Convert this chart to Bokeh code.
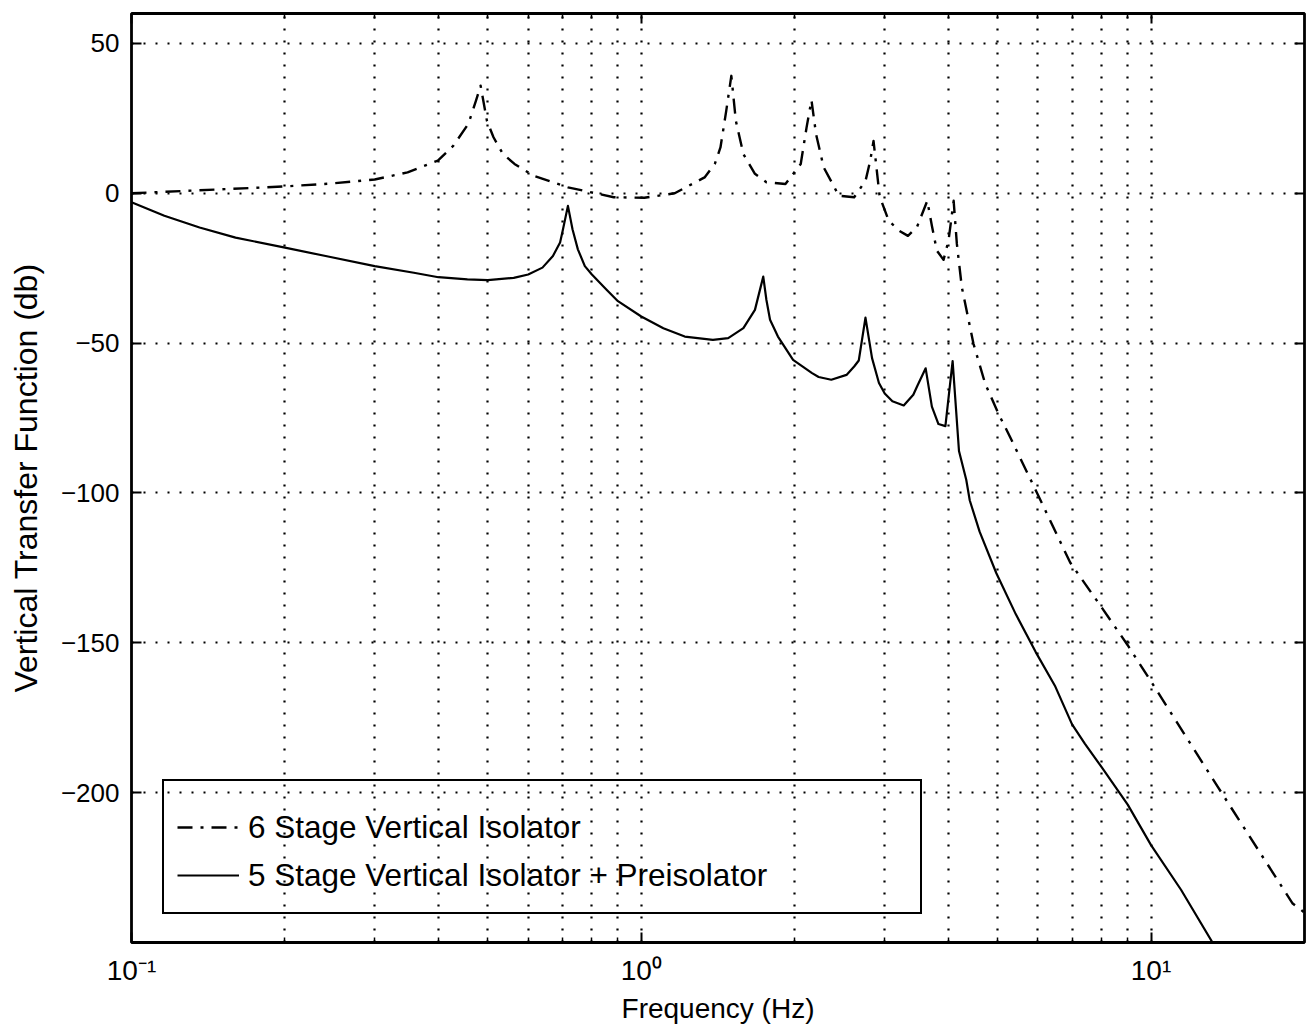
from bokeh.plotting import figure
from bokeh.models import FixedTicker, LogAxis, LinearAxis, Legend, LegendItem, Range1d
from bokeh.embed import file_html
from bokeh.resources import INLINE

# ---- data ----
freq_6stage = [0.1, 0.136, 0.2, 0.248, 0.3, 0.348, 0.399, 0.428, 0.458, 0.474, 0.484,
               0.498, 0.513, 0.535, 0.564, 0.614, 0.718, 0.883, 1.014, 1.163, 1.331,
               1.394, 1.43, 1.468, 1.502, 1.533, 1.586, 1.671, 1.76, 1.918, 2.055,
               2.11, 2.157, 2.202, 2.279, 2.441, 2.616, 2.754, 2.813, 2.855, 2.935,
               3.057, 3.2, 3.335, 3.473, 3.64, 3.716, 3.8, 3.917, 4.006, 4.1, 4.16,
               4.254, 4.484, 4.727, 5.018, 5.29, 5.94, 6.94, 8.0, 9.0, 10.0, 13.5,
               18.96, 20.0]
db_6stage = [0.0, 1.0, 2.3, 3.3, 4.6, 7.0, 10.9, 15.9, 23.2, 30.9, 35.9,
             24.2, 18.7, 13.2, 9.8, 5.9, 2.0, -1.3, -1.5, 0.0, 5.3,
             9.8, 15.3, 27.6, 39.2, 24.2, 13.1, 6.5, 3.7, 3.1, 9.8,
             22.0, 31.1, 19.8, 8.7, -0.8, -1.3, 4.2, 10.9, 17.5, -1.0,
             -9.1, -12.4, -14.2, -11.3, -2.5, -10.8, -19.1, -22.2, -15.8, -2.5, -16.9,
             -31.3, -50.2, -63.5, -73.5, -81.3, -99.1, -123.2, -138.2, -150.8, -162.9, -197.9,
             -237.0, -240.0]

freq_5stage = [0.1, 0.116, 0.136, 0.16, 0.2, 0.243, 0.3, 0.358, 0.4, 0.456, 0.5,
               0.562, 0.6, 0.64, 0.671, 0.693, 0.7, 0.718, 0.733, 0.751, 0.775,
               0.8, 0.854, 0.9, 1.0, 1.105, 1.217, 1.382, 1.481, 1.586, 1.671,
               1.735, 1.76, 1.789, 1.854, 1.985, 2.163, 2.228, 2.359, 2.527, 2.616,
               2.671, 2.753, 2.836, 2.926, 3.003, 3.109, 3.272, 3.417, 3.477, 3.613,
               3.716, 3.828, 3.95, 4.081, 4.2, 4.34, 4.41, 4.61, 4.97, 5.43, 5.94,
               6.49, 7.0, 7.42, 8.0, 9.0, 10.0, 11.45, 13.2]
db_5stage = [-3.0, -7.5, -11.4, -14.8, -18.1, -21.1, -24.3, -26.5, -28.0, -28.7, -29.0,
             -28.2, -27.1, -24.8, -20.9, -16.4, -13.1, -4.2, -12.0, -18.7, -24.3,
             -27.1, -32.1, -36.0, -41.1, -45.0, -47.8, -48.9, -48.3, -45.0, -38.9,
             -27.8, -35.6, -42.2, -47.8, -55.6, -60.0, -61.3, -62.2, -60.6, -57.8,
             -55.8, -41.5, -55.0, -63.3, -66.8, -69.4, -70.8, -67.2, -64.4, -58.4,
             -71.2, -77.0, -77.7, -56.0, -86.0, -95.6, -102.5, -112.9, -126.7, -140.5, -153.1,
             -164.6, -177.2, -183.7, -191.5, -204.0, -217.5, -232.4, -250.0]

x_major = [0.1, 1.0, 10.0]
x_minor = [0.2, 0.3, 0.4, 0.5, 0.6, 0.7, 0.8, 0.9, 2.0, 3.0, 4.0, 5.0, 6.0, 7.0, 8.0, 9.0]
x_tick_labels = ["10\u207b\u00b9", "10\u2070", "10\u00b9"]
y_ticks = [-200, -150, -100, -50, 0, 50]
y_tick_labels = ["\u2212200", "\u2212150", "\u2212100", "\u221250", "0", "50"]

series_labels = ["6 Stage Vertical Isolator", "5 Stage Vertical Isolator + Preisolator"]

FONT = "Liberation Sans"

p = figure(x_axis_type="log", x_range=Range1d(0.1, 20), y_range=Range1d(-250, 60),
           frame_width=1173, frame_height=929,
           min_border_left=131, min_border_right=4, min_border_top=13, min_border_bottom=88,
           output_backend="svg", toolbar_location=None)

p.outline_line_color = "black"
p.outline_line_width = 2.8
p.outline_line_alpha = 1.0
p.background_fill_color = "white"

# grid
p.xgrid.ticker = FixedTicker(ticks=x_major + x_minor)
p.ygrid.ticker = FixedTicker(ticks=y_ticks)
for g in (p.xgrid[0], p.ygrid[0]):
    g.grid_line_color = "black"
    g.grid_line_width = 2.2
    g.grid_line_dash = "2 10"
    g.grid_line_alpha = 1.0

def style_axis(ax):
    ax.axis_line_color = None
    ax.major_tick_in = 10
    ax.major_tick_out = 0
    ax.major_tick_line_width = 2
    ax.major_tick_line_color = "black"
    ax.minor_tick_in = 5
    ax.minor_tick_out = 0
    ax.minor_tick_line_width = 1.5
    ax.minor_tick_line_color = "black"
    ax.major_label_text_font = FONT
    ax.major_label_text_color = "black"

xa = p.xaxis[0]
xa.ticker = FixedTicker(ticks=x_major, minor_ticks=x_minor)
xa.major_label_overrides = dict(zip(x_major, x_tick_labels))
style_axis(xa)
xa.major_label_text_font_size = "28px"
xa.major_label_standoff = 12
xa.axis_label = "Frequency (Hz)"
xa.axis_label_text_font = FONT
xa.axis_label_text_font_size = "28px"
xa.axis_label_text_font_style = "normal"
xa.axis_label_text_color = "black"
xa.axis_label_standoff = 4

ya = p.yaxis[0]
ya.ticker = FixedTicker(ticks=y_ticks)
ya.major_label_overrides = dict(zip(y_ticks, y_tick_labels))
style_axis(ya)
ya.minor_tick_line_color = None
ya.major_label_text_font_size = "26px"
ya.major_label_standoff = 12
ya.axis_label = "Vertical Transfer Function (db)"
ya.axis_label_text_font = FONT
ya.axis_label_text_font_size = "32px"
ya.axis_label_text_font_style = "normal"
ya.axis_label_text_color = "black"
ya.axis_label_standoff = 14

ra = LinearAxis(ticker=FixedTicker(ticks=y_ticks))
style_axis(ra)
ra.minor_tick_line_color = None
ra.major_label_text_color = None
ra.major_label_text_font_size = "2px"
ra.major_label_standoff = 0
p.add_layout(ra, "right")

ta = LogAxis(ticker=FixedTicker(ticks=x_major, minor_ticks=x_minor))
style_axis(ta)
ta.major_label_text_color = None
ta.major_label_text_font_size = "2px"
ta.major_label_standoff = 0
p.add_layout(ta, "above")

r1 = p.line(freq_6stage, db_6stage, line_color="black", line_width=2.4,
            line_dash="15 8 3 8", line_join="round")
r2 = p.line(freq_5stage, db_5stage, line_color="black", line_width=2.2, line_join="round")

legend = Legend(items=[LegendItem(label=series_labels[0], renderers=[r1]),
                       LegendItem(label=series_labels[1], renderers=[r2])],
                location=(31, 28))
legend.border_line_color = "black"
legend.border_line_width = 2.5
legend.border_line_alpha = 1.0
legend.background_fill_alpha = 0.0
legend.padding = 13
legend.spacing = 0
legend.margin = 0
legend.label_standoff = 9
legend.glyph_width = 62
legend.glyph_height = 48
legend.label_height = 48
legend.label_width = 659
legend.label_text_font = FONT
legend.label_text_font_size = "31.5px"
legend.label_text_color = "black"
legend.title = " "
legend.title_text_font_size = "8px"
legend.title_standoff = 0
p.add_layout(legend, "center")

open("out.html", "w").write(file_html(p, INLINE))
